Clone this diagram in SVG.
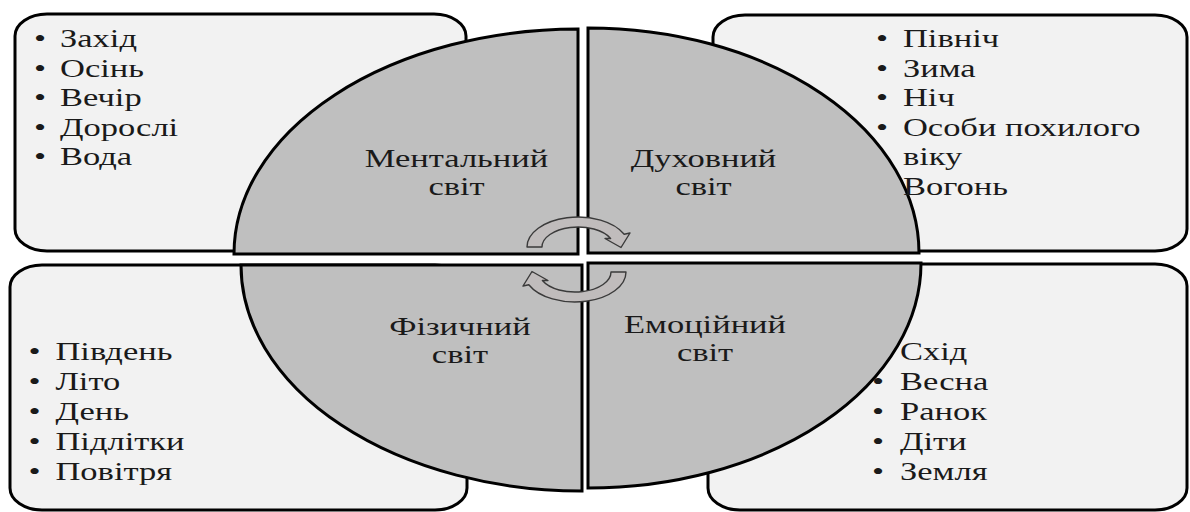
<svg xmlns="http://www.w3.org/2000/svg" xmlns:xlink="http://www.w3.org/1999/xlink" width="1190" height="512" viewBox="0 0 1190 512">
<style>
.box{fill:#f2f2f2;stroke:#000;stroke-width:3}
.quad{fill:#bfbfbf;stroke:#000;stroke-width:3}
.t{font-family:"Liberation Serif","Times New Roman",serif;font-size:25px;fill:#1a1a1a}
.c{text-anchor:middle}
.arr{fill:#c0bcbc;stroke:#3a3a3a;stroke-width:1.4;stroke-linejoin:round}
</style>
<defs>
<path id="cyc" class="arr" d="M527,247 A51,30 0 0 1 624.2,234.3 L630,233 L621,247.5 L605,238.5 L610.6,238.5 A36,20 0 0 0 542,247 Z"/>
</defs>
<rect width="1190" height="512" fill="#fff"/>
<g id="box-west"><rect class="box" x="15" y="14" width="451" height="237" rx="32" ry="22"/></g>
<g id="box-north"><rect class="box" x="713" y="15" width="474" height="236" rx="32" ry="22"/></g>
<g id="box-south"><rect class="box" x="10" y="265" width="457" height="245" rx="32" ry="22"/></g>
<g id="box-east"><rect class="box" x="708" y="264" width="479" height="246" rx="32" ry="22"/></g>

<g id="quad-mental"><path class="quad" d="M578,254 L234,254 A344,225 0 0 1 578,29 Z"/></g>
<g id="quad-spiritual"><path class="quad" d="M588,253 L588,28 A331,225 0 0 1 919,253 Z"/></g>
<g id="quad-physical"><path class="quad" d="M582,265 L582,491 A341,226 0 0 1 241,265 Z"/></g>
<g id="quad-emotional"><path class="quad" d="M588,263 L921,263 A333,225 0 0 1 588,488 Z"/></g>

<g transform="scale(1.38,1)">
<g id="list-west" class="t">
<text class="c" x="29" y="47.5">•</text><text x="43.5" y="47.5">Захід</text>
<text class="c" x="29" y="77">•</text><text x="43.5" y="77">Осінь</text>
<text class="c" x="29" y="106.5">•</text><text x="43.5" y="106.5">Вечір</text>
<text class="c" x="29" y="136">•</text><text x="43.5" y="136">Дорослі</text>
<text class="c" x="29" y="165.5">•</text><text x="43.5" y="165.5">Вода</text>
</g>
<g id="list-north" class="t">
<text class="c" x="639.1" y="47">•</text><text x="654.3" y="47">Північ</text>
<text class="c" x="639.1" y="77">•</text><text x="654.3" y="77">Зима</text>
<text class="c" x="639.1" y="106.5">•</text><text x="654.3" y="106.5">Ніч</text>
<text class="c" x="639.1" y="136">•</text><text x="654.3" y="136">Особи похилого</text>
<text x="654.3" y="165.5">віку</text>
<text x="654.3" y="195">Вогонь</text>
</g>
<g id="list-south" class="t">
<text class="c" x="25" y="360.5">•</text><text x="40.2" y="360.5">Південь</text>
<text class="c" x="25" y="390">•</text><text x="40.2" y="390">Літо</text>
<text class="c" x="25" y="420">•</text><text x="40.2" y="420">День</text>
<text class="c" x="25" y="450">•</text><text x="40.2" y="450">Підлітки</text>
<text class="c" x="25" y="480">•</text><text x="40.2" y="480">Повітря</text>
</g>
<g id="list-east" class="t">
<text x="652.2" y="360.5">Схід</text>
<text class="c" x="636.2" y="390">•</text><text x="652.2" y="390">Весна</text>
<text class="c" x="636.2" y="420">•</text><text x="652.2" y="420">Ранок</text>
<text class="c" x="636.2" y="450">•</text><text x="652.2" y="450">Діти</text>
<text class="c" x="636.2" y="480">•</text><text x="652.2" y="480">Земля</text>
</g>
<g id="label-mental" class="t c"><text x="330.8" y="167">Ментальний</text><text x="330.8" y="195">світ</text></g>
<g id="label-spiritual" class="t c"><text x="509.8" y="167">Духовний</text><text x="509.8" y="195">світ</text></g>
<g id="label-physical" class="t c"><text x="333.3" y="335">Фізичний</text><text x="333.3" y="363">світ</text></g>
<g id="label-emotional" class="t c"><text x="510.9" y="333">Емоційний</text><text x="510.9" y="361">світ</text></g>
</g>

<g id="connectors">
<use xlink:href="#cyc"/>
<use xlink:href="#cyc" transform="rotate(180 576.5 259.5)"/>
</g>
</svg>
